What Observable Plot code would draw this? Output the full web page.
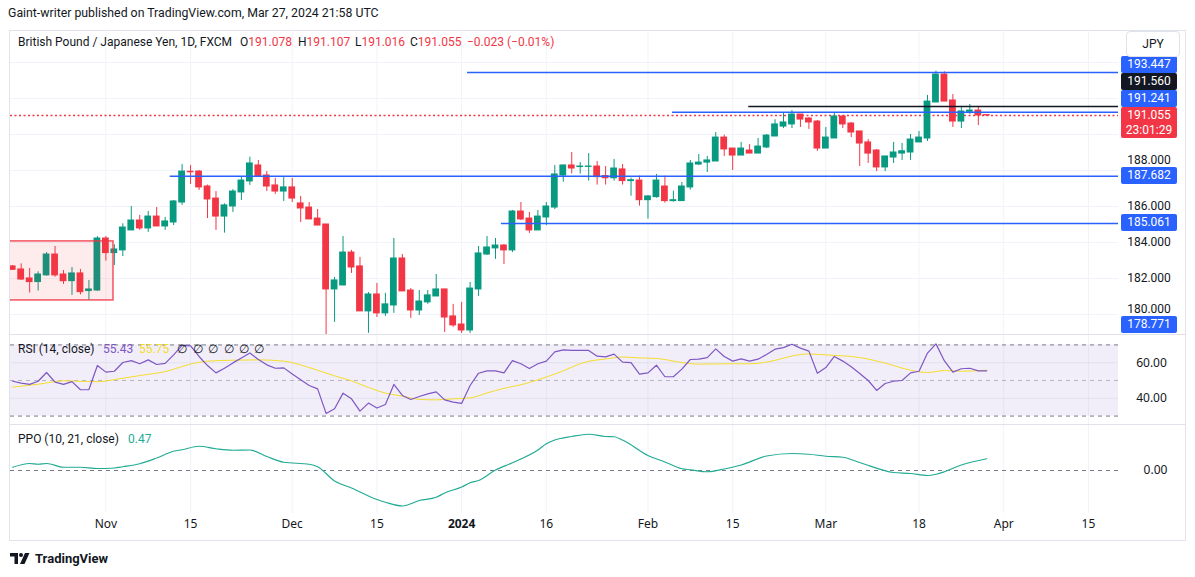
<!DOCTYPE html>
<html><head><meta charset="utf-8">
<script src="https://cdn.jsdelivr.net/npm/d3@7"></script>
<script src="https://cdn.jsdelivr.net/npm/@observablehq/plot@0.6"></script>
<style>
body{margin:0;background:#fff;}
#root{position:relative;width:1195px;height:577px;overflow:hidden;background:#fff;font-family:Roboto,"Liberation Sans",sans-serif;color:#131722;}
#root > *{position:absolute;}
.lbl{width:56px;height:17px;line-height:17px;text-align:center;color:#fff;font-size:12px;border-radius:2px;}
.tk{width:56px;text-align:center;font-size:12px;line-height:14px;}
</style></head><body><div id="root"></div>
<script>
// ---------- data ----------
const open = [182.67,182.50,182.00,181.80,182.17,183.33,182.22,181.85,182.28,181.30,
181.33,184.22,183.41,183.56,184.67,185.22,184.78,185.44,184.89,185.11,
186.22,187.93,187.94,187.11,186.44,185.44,186.00,186.78,187.39,188.28,
187.72,187.17,186.83,187.06,186.17,185.94,185.33,185.00,181.39,181.61,
183.44,182.67,180.17,181.11,180.06,180.50,183.11,181.33,180.22,180.67,
181.00,181.39,179.89,179.44,179.11,181.39,183.33,183.67,183.83,183.56,
185.72,185.33,184.67,185.39,185.94,187.72,188.28,188.19,188.20,188.22,
187.69,187.57,188.06,187.41,187.44,186.35,186.52,187.11,186.30,186.30,
187.06,188.33,188.44,188.50,189.83,189.22,188.83,189.11,188.94,189.28,
189.89,190.44,190.56,191.11,190.89,190.72,189.22,189.78,191.00,190.61,
190.17,189.56,189.11,188.17,188.72,188.94,189.00,189.56,189.78,191.78,
193.33,191.89,190.72,191.26,191.33,191.078];
const high = [182.72,182.81,182.56,182.37,183.44,183.78,182.44,182.61,182.50,181.89,
184.33,184.33,183.87,185.04,186.00,185.50,185.72,185.94,185.39,186.33,
188.33,188.28,188.00,187.19,186.83,186.15,186.94,187.67,188.74,188.56,
187.94,187.56,187.61,187.56,186.56,186.22,185.83,185.00,182.06,184.33,
183.56,183.17,181.22,181.72,181.17,184.22,183.33,181.44,181.33,181.33,
182.22,181.39,180.56,180.67,181.78,183.78,184.33,184.22,183.89,185.78,
186.22,185.67,185.78,186.22,188.28,188.30,189.00,188.44,188.94,188.50,
188.22,188.61,188.33,187.57,187.69,186.60,187.78,187.69,186.85,187.33,
188.56,188.89,188.78,190.11,189.96,189.22,189.56,189.44,189.78,190.00,
190.82,191.17,191.33,191.11,190.94,190.78,190.39,191.22,191.06,190.67,
190.17,189.72,189.17,188.78,189.56,189.50,190.00,190.17,192.17,193.52,
193.48,192.22,191.56,191.67,191.56,191.107];
const low = [182.45,181.89,181.19,181.30,182.13,182.07,181.67,181.06,181.09,180.78,
181.28,182.96,182.72,183.22,184.67,184.67,184.56,184.89,184.67,184.94,
186.06,187.22,186.89,185.33,184.67,184.52,185.67,186.33,187.17,187.67,
186.83,186.67,186.28,186.22,185.11,185.28,184.94,178.77,179.56,181.61,
182.28,180.17,178.95,179.83,179.89,180.06,181.28,179.78,179.94,180.56,
181.00,179.00,179.28,178.94,178.94,181.00,183.28,183.06,182.78,183.44,
185.22,184.50,184.67,184.94,185.83,187.35,187.81,187.80,187.41,187.19,
187.19,187.41,187.19,186.57,186.02,185.30,186.46,186.19,186.24,186.30,
186.91,188.28,187.89,188.50,188.78,188.00,188.83,188.94,188.94,189.22,
189.89,190.33,190.33,190.39,190.28,189.06,189.22,189.78,190.33,189.83,
188.22,188.39,187.94,187.94,188.39,188.56,188.56,189.56,189.61,191.78,
191.83,190.39,190.33,191.11,190.50,191.016];
const close = [182.48,181.94,181.80,182.22,183.33,182.17,181.85,182.28,181.24,181.39,
184.22,183.41,183.61,184.83,185.22,184.78,185.44,184.89,185.17,186.28,
187.94,187.90,187.06,186.39,185.44,186.06,186.83,187.44,188.39,187.67,
187.11,186.83,187.06,186.44,185.89,185.28,184.94,181.39,181.89,183.44,
182.61,180.17,181.11,180.06,180.56,183.11,181.28,180.22,180.72,181.06,
181.39,179.83,179.39,179.11,181.44,183.39,183.72,183.83,183.56,185.72,
185.28,184.67,185.44,186.00,187.78,188.28,188.11,188.22,188.22,187.63,
187.57,188.11,187.41,187.46,186.35,186.56,187.44,186.30,186.35,187.11,
188.39,188.44,188.56,189.83,189.17,188.83,189.22,188.94,189.33,189.94,
190.56,190.67,191.11,190.83,190.67,189.22,189.83,191.00,190.56,190.11,
189.50,188.94,188.17,188.78,189.00,189.07,189.72,189.83,191.83,193.33,
191.83,190.72,191.28,191.33,191.06,191.055];

const rsi = [49.6,48.5,47.8,49.6,54.5,49.1,47.8,49.4,44.8,44.9,
58.4,54.7,55.2,60.1,61.2,59.4,61.6,59.0,59.6,64.4,
69.7,69.5,63.5,58.4,54.3,56.9,59.9,62.7,65.5,61.8,
58.8,56.9,57.1,53.7,50.4,47.2,45.3,31.5,34.1,42.9,
39.7,32.8,37.3,34.5,36.5,47.8,41.6,39.3,41.0,42.5,
43.6,39.1,37.8,37.1,47.2,54.1,55.4,55.4,54.3,61.2,
59.4,56.7,59.4,60.9,66.1,67.2,66.9,66.9,66.9,63.7,
63.3,64.8,60.3,60.1,53.6,54.3,58.6,52.1,52.1,56.4,
61.8,62.0,62.9,67.8,63.5,60.9,62.2,60.9,62.0,64.6,
67.6,68.5,70.4,68.2,66.5,54.1,57.3,63.5,60.9,57.7,
53.9,50.0,44.4,48.3,49.6,50.0,54.3,55.2,65.4,70.6,
61.0,54.7,56.6,56.9,55.4,55.43];
const rsiMaBar = [0,3,6,10,12,15,18,21,23,26,29,32,35,38,40,42,44,46,48,50,52,54,56,58,60,64,68,70,72,74,76,79,81,84,87,90,92,94,96,100,103,106,108,110,112,115];
const rsiMaVal = [46.3,47.9,49.8,49.3,50.5,52.8,55.0,59.2,60.9,61.4,61.6,60.9,57.3,52.6,49.8,46.1,42.9,41.2,39.4,39.1,39.7,40.2,43.0,45.6,47.6,53.6,60.8,62.1,63.2,62.7,62.4,60.1,59.2,59.4,59.4,61.3,63.8,64.9,64.4,62.9,59.8,55.8,54.5,55.6,55.2,55.75];
const ppoBar = [0,2,3,4,6,8,10,12,13,15,17,19,20,22,24,26,28,30,32,35,36,38,40,43,44,46,48,50,51,53,54,55,57,59,62,63,64,66,68,70,71,72,75,77,79,80,82,84,86,89,92,94,96,98,100,104,106,108,109,110,112,115];
const ppoVal = [0.13,0.28,0.25,0.28,0.13,0.13,0.08,0.10,0.15,0.27,0.50,0.77,0.83,0.97,0.87,0.81,0.82,0.56,0.33,0.25,0.15,-0.42,-0.70,-1.16,-1.27,-1.42,-1.20,-1.07,-0.90,-0.66,-0.49,-0.40,0.02,0.31,0.82,1.07,1.22,1.36,1.45,1.36,1.35,1.22,0.60,0.34,0.07,0.03,-0.05,0.06,0.22,0.58,0.68,0.65,0.57,0.53,0.32,-0.08,-0.12,-0.20,-0.15,-0.05,0.22,0.47];

const tickDates = ["2023-11-01","2023-11-15","2023-12-01","2023-12-15","2024-01-02","2024-01-16","2024-02-01","2024-02-15","2024-03-01","2024-03-18","2024-04-01","2024-04-15"];
const tickLabels = ["Nov","15","Dec","15","2024","16","Feb","15","Mar","18","Apr","15"];
const priceTicks = [180,182,184,186,188];
const priceGrid = [180,182,184,186,188,190,192,194];
const holidays = ["2023-12-25","2024-01-01"];

// drawings: horizontal levels (price, first bar), zone rectangle
const levelPrice = [193.447,191.560,191.241,187.682,185.061,178.771];
const levelStart = [53.7,86.9,77.9,18.6,57.7,37];
const levelKind  = ["blue","black","blue","blue","blue","blue"];
const zone = {bar1:-1, bar2:11.9, top:184.06, bottom:180.78};
const lastPrice = 191.055, countdown = "23:01:29";

// ---------- setup ----------
const G = "#089981", R = "#f23645", BLUE = "#2962ff", INK = "#131722", PURPLE = "#7e57c2", YEL = "#f5dd2a", TEAL = "#22ab94";
const FONT = "Roboto, 'Liberation Sans', sans-serif";
const root = document.getElementById("root");
const W = 1195, ML = 10, MR = 77;
const fmt = d3.utcFormat("%Y-%m-%d");
const days = d3.utcDay.range(new Date(Date.UTC(2023,9,17)), new Date(Date.UTC(2024,4,1)))
  .filter(d => d.getUTCDay() % 6 !== 0 && !holidays.includes(fmt(d)));
const barOf = s => days.findIndex(d => fmt(d) === s);
const ticks = tickDates.map((s,k) => ({bar: barOf(s), label: tickLabels[k], year: /^\d{4}$/.test(tickLabels[k])}));
const tickBars = ticks.map(t => t.bar);
const bars = open.map((o,i) => ({i, date: days[i], o, h: high[i], l: low[i], c: close[i], col: close[i] >= o ? G : R}));
const levels = levelPrice.map((p,k) => ({p, start: levelStart[k], col: levelKind[k] === "black" ? INK : BLUE}));
const X = {domain: [-0.26, 130.55], axis: null};
const style = {fontFamily: FONT, fontSize: "12px", background: "transparent", overflow: "visible"};

function el(tag, css, html) { const e = document.createElement(tag); e.style.cssText = css; if (html != null) e.innerHTML = html; root.appendChild(e); return e; }

// frame
el("div", "left:9px;top:30px;width:1177px;height:511px;border:1px solid #e0e3eb;box-sizing:border-box;");

// ---------- price pane ----------
const pricePlot = Plot.plot({
  width: W, height: 305, marginLeft: ML, marginRight: MR, marginTop: 0, marginBottom: 0,
  x: X, y: {domain: [178.83, 195.78], axis: null}, color: {type: "identity"}, style,
  marks: [
    Plot.ruleX(tickBars, {stroke: "#f0f3fa"}),
    Plot.ruleY(priceGrid, {stroke: "#f0f3fa"}),
    Plot.ruleY([lastPrice], {stroke: R, strokeWidth: 1.4, strokeDasharray: "2,2.5"}),
    Plot.ruleX(bars, {x: "i", y1: "l", y2: "h", stroke: "col", strokeWidth: 1, clip: true}),
    Plot.rect(bars, {x1: d => d.i - 0.4, x2: d => d.i + 0.4, y1: d => Math.min(d.o, d.c), y2: d => Math.max(d.o, d.c), fill: "col", insetTop: -0.5, insetBottom: -0.5, clip: true}),
    Plot.rect([zone], {x1: "bar1", x2: "bar2", y1: "bottom", y2: "top", fill: R, fillOpacity: 0.1, stroke: R, strokeOpacity: 0.85, strokeWidth: 1.5, clip: true}),
    Plot.ruleY(levels, {y: "p", x1: "start", x2: () => 140, stroke: "col", strokeWidth: 1.5, clip: true})
  ]
});
pricePlot.style.cssText = "position:absolute;left:0;top:30px;";
root.appendChild(pricePlot);

// ---------- RSI pane ----------
const rsiPts = rsi.map((v,i) => ({i, v}));
const rsiMa = rsiMaBar.map((b,k) => ({i: b, v: rsiMaVal[k]}));
const rsiPlot = Plot.plot({
  width: W, height: 90, marginLeft: ML, marginRight: MR, marginTop: 0, marginBottom: 0,
  x: X, y: {domain: [24.7, 75.3], axis: null}, style,
  marks: [
    Plot.ruleX(tickBars, {stroke: "#f0f3fa"}),
    Plot.rect([{a: 30, b: 70}], {y1: "a", y2: "b", fill: PURPLE, fillOpacity: 0.1}),
    Plot.ruleY([60, 40], {stroke: "#e3e0ee"}),
    Plot.ruleY([70, 30], {stroke: "#787b86", strokeDasharray: "4,4"}),
    Plot.ruleY([50], {stroke: "#787b86", strokeOpacity: 0.5, strokeDasharray: "4,4"}),
    Plot.line(rsiMa, {x: "i", y: "v", stroke: YEL, strokeWidth: 1, curve: "monotone-x"}),
    Plot.line(rsiPts, {x: "i", y: "v", stroke: PURPLE, strokeWidth: 1.2}),
    Plot.text([60, 40], {y: d => d, text: d => d.toFixed(2), frameAnchor: "right", dx: 33, textAnchor: "middle", fill: INK, fontSize: 12})
  ]
});
rsiPlot.style.cssText = "position:absolute;left:0;top:335px;";
root.appendChild(rsiPlot);

// ---------- PPO pane + time axis ----------
const ppo = ppoBar.map((b,k) => ({i: b, v: ppoVal[k]}));
const ppoPlot = Plot.plot({
  width: W, height: 116, marginLeft: ML, marginRight: MR, marginTop: 0, marginBottom: 28,
  x: X, y: {domain: [-1.72, 1.8], axis: null}, style,
  marks: [
    Plot.ruleX(tickBars, {stroke: "#f0f3fa"}),
    Plot.ruleY([0], {stroke: "#787b86", strokeDasharray: "4,4"}),
    Plot.line(ppo, {x: "i", y: "v", stroke: TEAL, strokeWidth: 1.2, curve: "monotone-x"}),
    Plot.text([0], {y: d => d, text: d => d.toFixed(2), frameAnchor: "right", dx: 37, textAnchor: "middle", fill: INK, fontSize: 12}),
    Plot.text(ticks.filter(t => !t.year), {x: "bar", text: "label", frameAnchor: "bottom", dy: 14, fill: INK, fontSize: 12}),
    Plot.text(ticks.filter(t => t.year), {x: "bar", text: "label", frameAnchor: "bottom", dy: 14, fill: INK, fontSize: 12, fontWeight: "bold"})
  ]
});
ppoPlot.style.cssText = "position:absolute;left:0;top:425px;";
root.appendChild(ppoPlot);

// pane separators
el("div", "left:9px;top:334px;width:1177px;height:1px;background:#dfe2e8;");
el("div", "left:9px;top:424px;width:1177px;height:1px;background:#dfe2e8;");

// ---------- price scale labels (placed with the price scale, pushed apart like TradingView) ----------
const ys = pricePlot.scale("y");
const labs = levels.map(l => ({p: l.p, text: l.p.toFixed(3), col: l.col, h: 17}));
labs.push({p: lastPrice, text: lastPrice.toFixed(3) + "<br>" + countdown, col: R, h: 31, cur: true});
labs.sort((a,b) => a.p - b.p);
let limit = 333;
for (const L of labs) {
  const yc = 30 + ys.apply(L.p);
  let top = yc - 8.5;
  if (top + L.h > limit) top = limit - L.h;
  L.top = top; limit = top;
}
// tick values: kept just clear of the coloured labels
for (const t of priceTicks) {
  let top = 30 + ys.apply(t) - 7;
  for (const L of labs) if (top + 14 > L.top && top < L.top + L.h) top = L.top - 14;
  el("div", `left:1121px;top:${top}px;`, t.toFixed(3)).className = "tk";
}
for (const L of labs) {
  const e = el("div", `left:1121px;top:${L.top}px;background:${L.col};` + (L.cur ? "height:31px;line-height:15px;padding-top:1px;box-sizing:border-box;" : ""), L.text);
  e.className = "lbl";
}

// JPY button
el("div", "left:1126px;top:31px;width:54px;height:26px;border:1px solid #e0e3eb;border-radius:4px;background:#fff;box-sizing:border-box;font-size:12px;line-height:24px;text-align:center;", "JPY");

// ---------- texts ----------
el("div", "left:8px;top:6px;font-size:12.3px;white-space:nowrap;", "Gaint-writer published on TradingView.com, Mar 27, 2024 21:58 UTC");
const hdr = "top:35px;font-size:12px;white-space:nowrap;";
el("div", "left:18px;" + hdr, "British Pound / Japanese Yen, 1D, FXCM");
el("div", "left:240px;" + hdr, `O<span style="color:${R}">${open[open.length-1].toFixed(3)}</span>`);
el("div", "left:298px;" + hdr, `H<span style="color:${R}">${high[high.length-1].toFixed(3)}</span>`);
el("div", "left:355px;" + hdr, `L<span style="color:${R}">${low[low.length-1].toFixed(3)}</span>`);
el("div", "left:410px;" + hdr, `C<span style="color:${R}">${close[close.length-1].toFixed(3)}</span>`);
el("div", `left:467px;color:${R};` + hdr, "\u22120.023 (\u22120.01%)");

const rl = "top:342px;font-size:12px;white-space:nowrap;";
el("div", "left:18px;" + rl, "RSI (14, close)");
el("div", `left:103px;color:${PURPLE};` + rl, rsi[rsi.length-1].toFixed(2));
el("div", `left:139px;color:${YEL};` + rl, rsiMaVal[rsiMaVal.length-1].toFixed(2));
[177,193,208,224,239,254].forEach(x => el("div", `left:${x}px;` + rl, "\u2205"));

const pl = "top:432px;font-size:12px;white-space:nowrap;";
el("div", "left:18px;" + pl, "PPO (10, 21, close)");
el("div", `left:128px;color:${TEAL};` + pl, ppoVal[ppoVal.length-1].toFixed(2));

// footer logo
el("div", "left:10px;top:551px;display:flex;align-items:center;font-size:13px;font-weight:bold;white-space:nowrap;",
  `<svg width="22" height="14" viewBox="0 0 22 14"><path d="M0 1h8v11H4.5V4.5H0z" fill="${INK}"/><circle cx="11" cy="3" r="2" fill="${INK}"/><path d="M15 1h4.5l-5 11H10z" fill="${INK}"/></svg><span style="margin-left:3px">TradingView</span>`);
</script></body></html>
